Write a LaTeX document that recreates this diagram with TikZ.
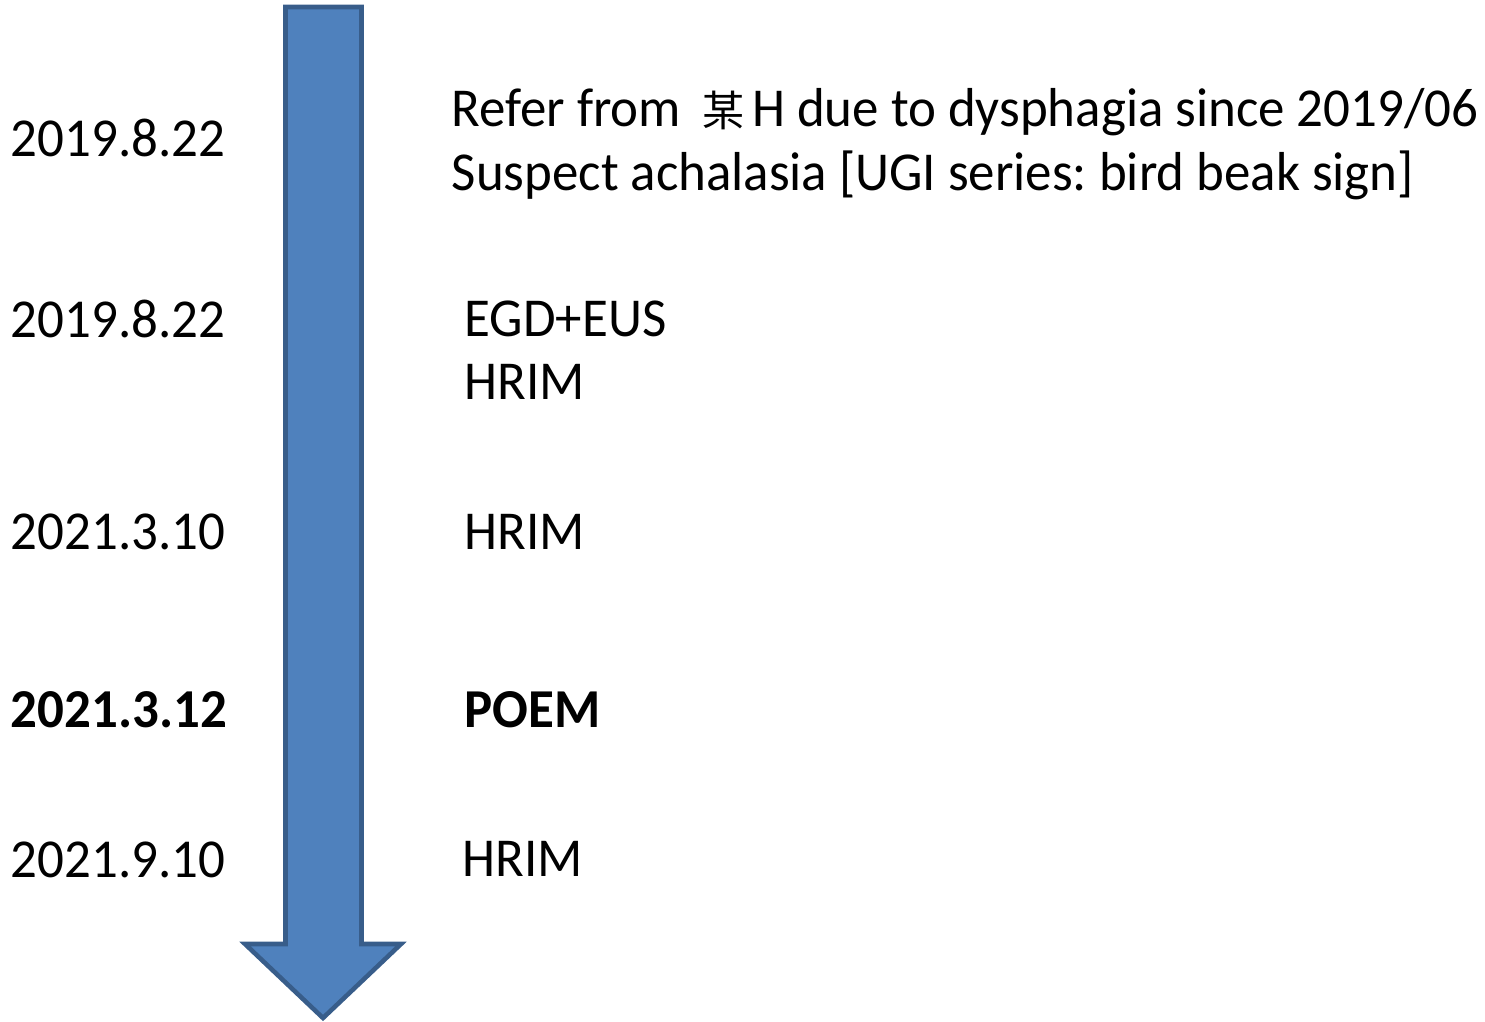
\documentclass[tikz,border=0pt]{standalone}
\usepackage{fontspec}
\setmainfont{Carlito}[FakeStretch=0.965]
\newfontfamily\cjkfont{Noto Sans CJK TC}
\frenchspacing
\begin{document}
\begin{tikzpicture}[x=0.01cm,y=-0.01cm,
  txt/.style={anchor=base west,inner sep=0pt,font=\fontsize{15.6pt}{18pt}\selectfont},
  bold/.style={txt,font=\fontsize{15.6pt}{18pt}\selectfont\bfseries},
  bigarrow/.style={fill={rgb,255:red,79;green,129;blue,189},draw={rgb,255:red,56;green,93;blue,138},line width=1.3pt,line join=miter}]
\useasboundingbox (0,0) rectangle (1485,1022);
\draw[bigarrow] (285.5,7) -- (361.5,7) -- (361.5,944) -- (401,944) -- (323,1018) -- (245,944) -- (285.5,944) -- cycle;
\node[txt] (d1) at (10,157) {2019.8.22};
\node[txt] (d2) at (10,338) {2019.8.22};
\node[txt] (d3) at (10,550) {2021.3.10};
\node[bold] (d4) at (10,728) {2021.3.12};
\node[txt] (d5) at (10,877) {2021.9.10};
\node[txt] (t1) at (451,127) {Refer from \hspace{0.1cm}{\cjkfont\fontsize{12pt}{12pt}\selectfont 某}\hspace{0.07cm}H due to dysphagia since 2019/06};
\node[txt] (t2) at (451,191) {Suspect achalasia [UGI series: bird beak sign]};
\node[txt] (t3) at (464,337) {EGD+EUS};
\node[txt] (t4) at (464,400) {HRIM};
\node[txt] (t5) at (464,550) {HRIM};
\node[bold] (t6) at (464,728) {POEM};
\node[txt] (t7) at (462,876) {HRIM};
\end{tikzpicture}
\end{document}
